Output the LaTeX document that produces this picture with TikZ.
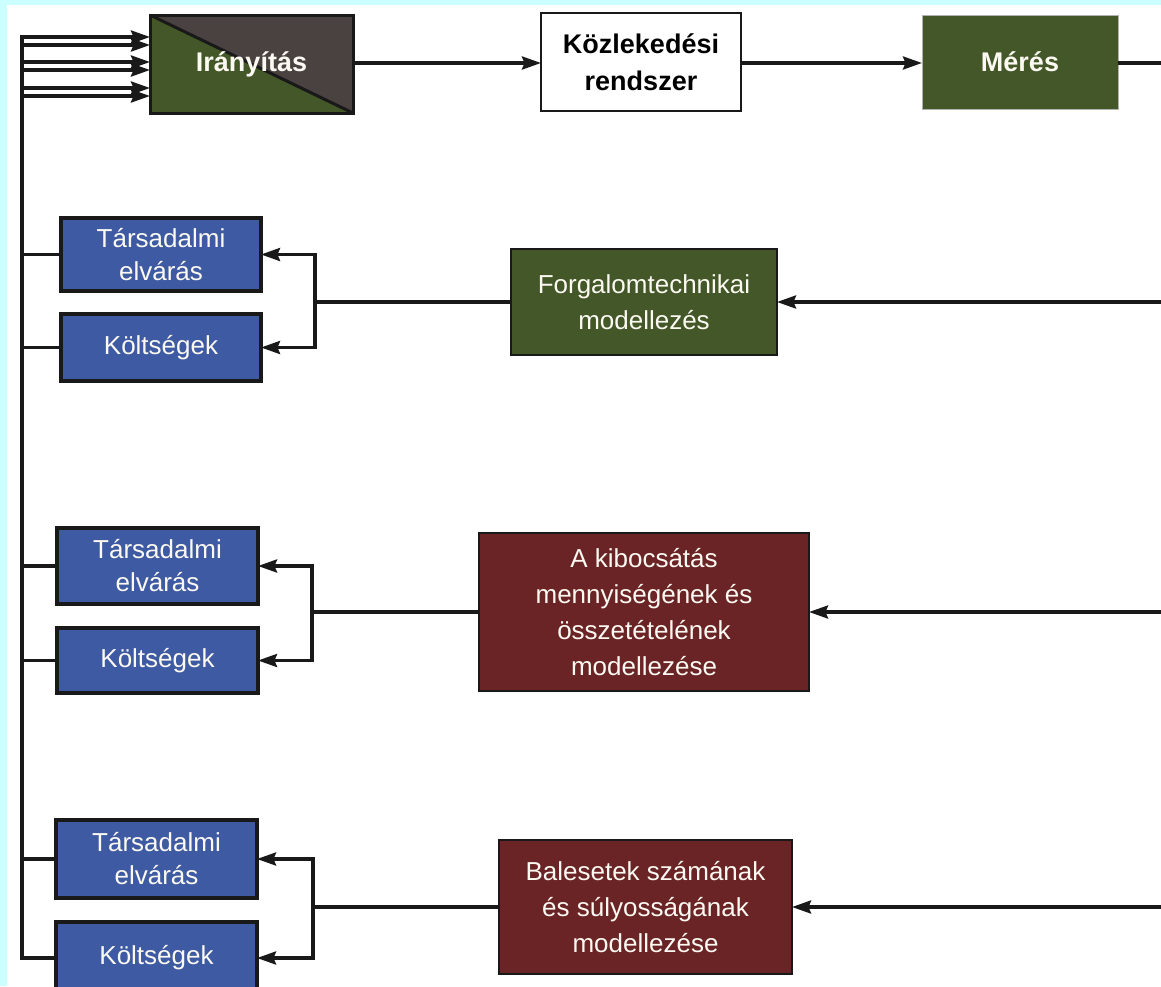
\documentclass[tikz,border=0pt]{standalone}
\usepackage{fontspec}
\setmainfont{Liberation Sans}
\usetikzlibrary{arrows.meta}
\definecolor{bgcyan}{HTML}{CCFFFF}
\definecolor{dgreen}{HTML}{435728}
\definecolor{dgray}{HTML}{4A4240}
\definecolor{dblue}{HTML}{3E5AA2}
\definecolor{dred}{HTML}{6B2426}
\definecolor{offwhite}{HTML}{FBF9F1}
\tikzset{
  x=1pt, y=-1pt,
  wire/.style={line width=3.3pt, draw=black!90},
  arr/.style={wire, -{Stealth[length=19pt,width=13pt,inset=2.5pt]}},
  boxbase/.style={rectangle, inner sep=0pt, outer sep=0pt, align=center, text=offwhite},
  topbox/.style={boxbase, font=\fontsize{27}{37}\selectfont\bfseries},
  bluebox/.style={boxbase, fill=dblue, draw=black!90, line width=3.3pt, minimum width=200pt,
     font=\fontsize{26}{33}\selectfont},
  modelbox/.style={boxbase, draw=black!90, line width=2.8pt, font=\fontsize{26}{36}\selectfont},
}
\begin{document}
\begin{tikzpicture}
\useasboundingbox (0,0) rectangle (1161,986);
\clip (0,0) rectangle (1161,986);
\fill[bgcyan] (0,0) rectangle (1161,986);
\fill[white] (7,5) rectangle (1161,986);

% top row
\node[topbox, draw=black!90, line width=3pt, minimum width=203pt, minimum height=98pt,
  path picture={
    \fill[dgreen] (path picture bounding box.north west) -- (path picture bounding box.south east) -- (path picture bounding box.south west) -- cycle;
    \fill[dgray] (path picture bounding box.north west) -- (path picture bounding box.north east) -- (path picture bounding box.south east) -- cycle;
    \draw[line width=3pt, black!90] (path picture bounding box.north west) -- (path picture bounding box.south east);
  }] (ir) at (251.5,64) {Irányítás};
\node[topbox, text=black, fill=white, draw=black!90, line width=2.6pt, minimum width=200pt, minimum height=98pt]
  (kr) at (641,62) {Közlekedési\\rendszer};
\node[topbox, fill=dgreen, draw=black!30, line width=0.6pt, minimum width=196pt, minimum height=94pt]
  (me) at (1020,62) {Mérés};

\coordinate (redge) at (1161,0);
\draw[arr] (ir.east |- 0,63) -- (kr.west |- 0,63);
\draw[arr] (kr.east |- 0,63) -- (me.west |- 0,63);
\draw[wire] (me.east |- 0,63) -- (redge |- 0,63);

% inputs to Irányítás
\coordinate (bustop) at (22,37);
\coordinate (busbot) at (22,958);
\foreach \yy in {37,45,62,70,88,96} {
  \coordinate (in) at (22,\yy);
  \draw[arr] (in) -- (in -| ir.west);
}
\draw[wire] ([yshift=1.65pt]bustop) -- ([yshift=-1.65pt]busbot);

% row 1
\node[bluebox, minimum height=73pt] (ta1) at (161,254.5) {Társadalmi\\elvárás};
\node[bluebox, minimum height=67pt] (ko1) at (161,347.5) {Költségek};
\node[modelbox, fill=dgreen, minimum width=266pt, minimum height=106pt] (fm) at (644,302)
  {Forgalomtechnikai\\modellezés};
\coordinate (j1) at (315,302);
\draw[arr] (fm.east -| redge) -- (fm.east);
\draw[wire] (fm.west) -- (j1);
\draw[arr] (j1) |- (ta1.east);
\draw[arr] (j1) |- (ko1.east);
\draw[wire] (ta1.west -| bustop) -- (ta1.west);
\draw[wire] (ko1.west -| bustop) -- (ko1.west);

% row 2
\node[bluebox, minimum width=201pt, minimum height=76pt] (ta2) at (157.5,566) {Társadalmi\\elvárás};
\node[bluebox, minimum width=201pt, minimum height=65pt] (ko2) at (157.5,660.5) {Költségek};
\node[modelbox, fill=dred, minimum width=330pt, minimum height=158pt] (kb) at (644,612)
  {A kibocsátás\\mennyiségének és\\összetételének\\modellezése};
\coordinate (j2) at (312,612);
\draw[arr] (kb.east -| redge) -- (kb.east);
\draw[wire] (kb.west) -- (j2);
\draw[arr] (j2) |- (ta2.east);
\draw[arr] (j2) |- (ko2.east);
\draw[wire] (ta2.west -| bustop) -- (ta2.west);
\draw[wire] (ko2.west -| bustop) -- (ko2.west);

% row 3
\node[bluebox, minimum width=201pt, minimum height=78pt] (ta3) at (156.5,859) {Társadalmi\\elvárás};
\node[bluebox, minimum width=201pt, minimum height=72pt] (ko3) at (156.5,958) {Költségek};
\node[modelbox, fill=dred, minimum width=293pt, minimum height=134pt] (bl) at (645.5,907)
  {Balesetek számának\\és súlyosságának\\modellezése};
\coordinate (j3) at (313,907);
\draw[arr] (bl.east -| redge) -- (bl.east);
\draw[wire] (bl.west) -- (j3);
\draw[arr] (j3) |- (ta3.east);
\draw[arr] (j3) |- (ko3.east);
\draw[wire] (ta3.west -| bustop) -- (ta3.west);
\draw[wire] (busbot) -- (ko3.west);
\end{tikzpicture}
\end{document}
